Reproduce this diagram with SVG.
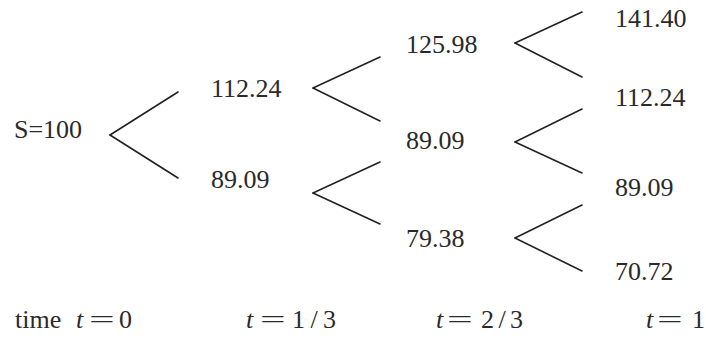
<svg xmlns="http://www.w3.org/2000/svg" width="706" height="338" viewBox="0 0 706 338">
<style>
text{font-family:'Liberation Serif','DejaVu Serif',serif;font-size:26px;fill:#2a2a2a}
.it{font-style:italic}
.c line{stroke:#222;stroke-width:1.6;stroke-linecap:round}
</style>
<rect width="706" height="338" fill="#fff"/>
<g id="n0"><text x="14" y="138">S=100</text></g>
<g id="n1u"><text x="211" y="97">112.24</text></g>
<g id="n1d"><text x="211" y="188">89.09</text></g>
<g id="n2u"><text x="406" y="53">125.98</text></g>
<g id="n2m"><text x="406" y="149">89.09</text></g>
<g id="n2d"><text x="406" y="247">79.38</text></g>
<g id="n3a"><text x="615" y="27">141.40</text></g>
<g id="n3b"><text x="615" y="106">112.24</text></g>
<g id="n3c"><text x="615" y="196">89.09</text></g>
<g id="n3d"><text x="615" y="280">70.72</text></g>
<g id="connectors" class="c">
<line x1="110" y1="135" x2="178" y2="92"/>
<line x1="110" y1="135" x2="178" y2="178"/>
<line x1="313" y1="88" x2="380" y2="57"/>
<line x1="313" y1="88" x2="380" y2="121"/>
<line x1="313" y1="193" x2="380" y2="162"/>
<line x1="313" y1="193" x2="380" y2="224"/>
<line x1="515" y1="43" x2="582" y2="12"/>
<line x1="515" y1="43" x2="582" y2="77"/>
<line x1="515" y1="142" x2="582" y2="109"/>
<line x1="515" y1="142" x2="582" y2="173"/>
<line x1="515" y1="238" x2="582" y2="205"/>
<line x1="515" y1="238" x2="582" y2="271"/>
</g>
<g id="axis">
<text x="15" y="328">time</text>
<text x="76" y="328" class="it">t</text>
<text transform="translate(89,328) scale(1.75,1)">=</text>
<text x="119" y="328">0</text>
<text x="246" y="328" class="it">t</text>
<text transform="translate(260,328) scale(1.75,1)">=</text>
<text x="292" y="328" textLength="44" lengthAdjust="spacing">1/3</text>
<text x="436" y="328" class="it">t</text>
<text transform="translate(447,328) scale(1.75,1)">=</text>
<text x="481" y="328" textLength="42" lengthAdjust="spacing">2/3</text>
<text x="646" y="328" class="it">t</text>
<text transform="translate(657,328) scale(1.75,1)">=</text>
<text x="692" y="328">1</text>
</g>
</svg>
